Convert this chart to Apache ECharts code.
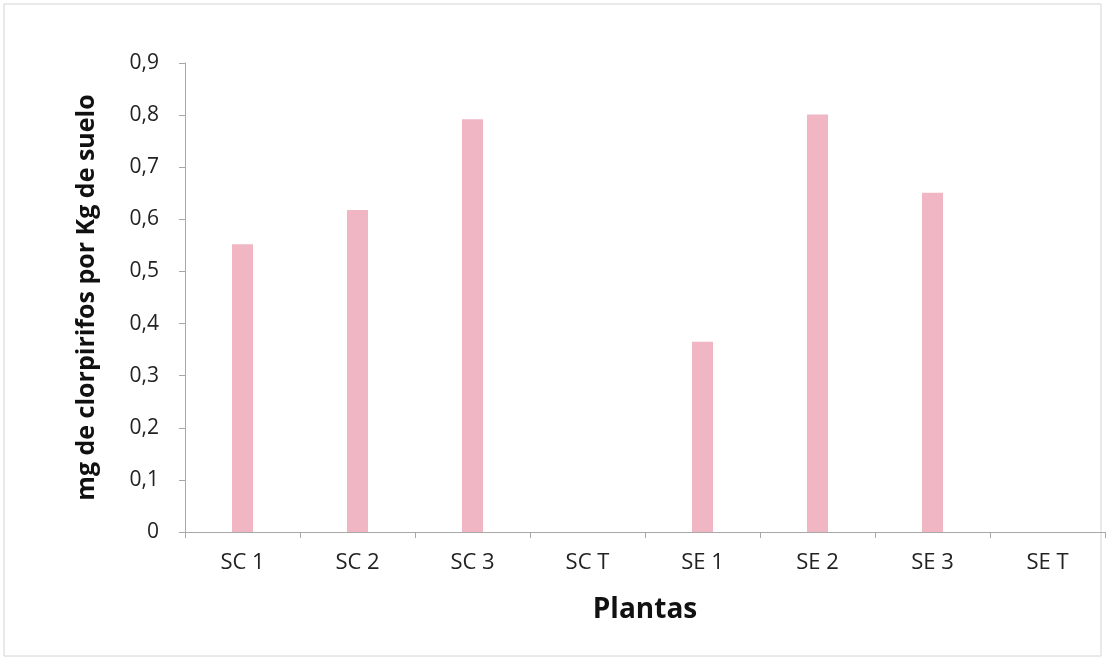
<!DOCTYPE html>
<html><head><meta charset="utf-8">
<script src="https://cdn.jsdelivr.net/npm/echarts@6/dist/echarts.min.js"></script>
<style>html,body{margin:0;padding:0;background:#fff}#c{width:1107px;height:662px}</style>
</head><body><div id="c"></div>
<script>
const categories = ['SC 1','SC 2','SC 3','SC T','SE 1','SE 2','SE 3','SE T'];
const values = [0.552, 0.618, 0.792, 0, 0.365, 0.801, 0.651, 0];
const yTicks = [0, 0.1, 0.2, 0.3, 0.4, 0.5, 0.6, 0.7, 0.8, 0.9];
const yTitle = 'mg de clorpirifos por Kg de suelo';
const xTitle = 'Plantas';

const font = '"Open Sans", "Liberation Sans", sans-serif';
const chart = echarts.init(document.getElementById('c'));
chart.setOption({
  animation: false,
  graphic: [{type:'rect', shape:{x:4,y:4,width:1097,height:652}, style:{fill:'none', stroke:'#d4d4d4', lineWidth:1}, silent:true}],
  grid: {left:185, right:2, top:63, bottom:130},
  xAxis: {
    type:'category', data:categories,
    name:xTitle, nameLocation:'middle', nameGap:64,
    nameTextStyle:{fontFamily:font, fontWeight:'bold', fontSize:28, color:'#111'},
    axisLine:{lineStyle:{color:'#a8a8a8', width:1}},
    axisTick:{show:true, length:6, alignWithLabel:false, lineStyle:{color:'#a8a8a8'}},
    axisLabel:{fontFamily:font, fontSize:22, color:'#222', margin:20}
  },
  yAxis: {
    type:'value', min:0, max:0.9, interval:0.1,
    name:yTitle, nameLocation:'middle', nameGap:86, nameRotate:90,
    nameTextStyle:{fontFamily:font, fontWeight:'bold', fontSize:25, color:'#111'},
    axisLine:{show:true, lineStyle:{color:'#a8a8a8', width:1}},
    axisTick:{show:true, length:6, lineStyle:{color:'#a8a8a8'}},
    splitLine:{show:false},
    axisLabel:{fontFamily:font, fontSize:21, color:'#222', margin:26,
      formatter: v => { const t = yTicks.find(k => Math.abs(k - v) < 1e-9); return t === 0 ? '0' : String(Math.round(v*10)/10).replace('.', ','); }}
  },
  series: [{
    type:'bar', data:values, barWidth:21,
    itemStyle:{color:'#f0b6c3'}
  }]
});
</script></body></html>
